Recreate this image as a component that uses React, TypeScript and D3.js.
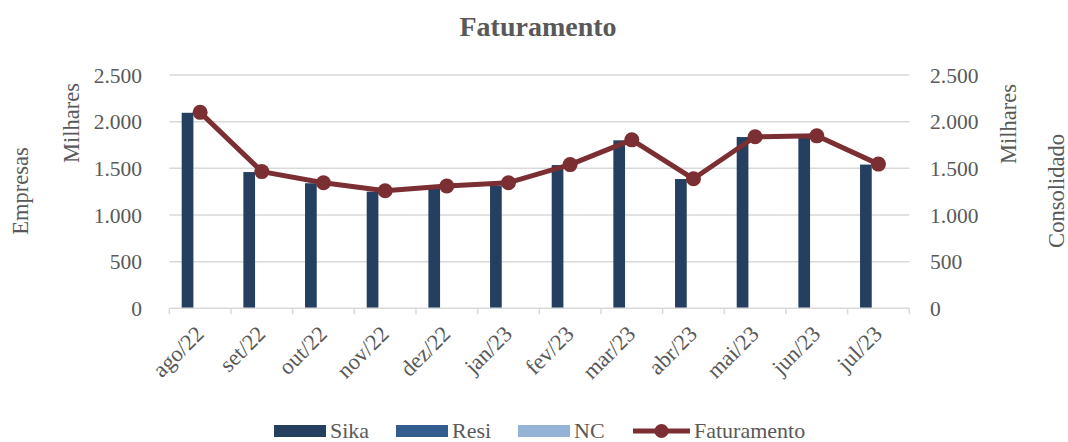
import React from "react";
import * as d3 from "d3";

const categories = ["ago/22","set/22","out/22","nov/22","dez/22","jan/23","fev/23","mar/23","abr/23","mai/23","jun/23","jul/23"];
const sika = [2095, 1460, 1340, 1250, 1280, 1315, 1535, 1800, 1385, 1835, 1840, 1540];
const resi = [0,0,0,0,0,0,0,0,0,0,0,0];
const nc = [0,0,0,0,0,0,0,0,0,0,0,0];
const faturamento = [2100, 1465, 1346, 1260, 1311, 1346, 1540, 1805, 1388, 1838, 1848, 1545];
const yTicks = [0, 500, 1000, 1500, 2000, 2500];
const seriesNames = ["Sika", "Resi", "NC"];
const seriesColors = ["#243F60", "#335D8E", "#95B3D7"];
const lineColor = "#7B2F32";

const W = 1068, H = 442;
const left = 169.3, right = 909.3, top = 75, bottom = 308.3;
const FONT = "'Liberation Serif', 'Times New Roman', serif";
const TXT = "#595959";

const fmt = (v: number) => d3.format(",")(v).replace(/,/g, ".");

export default function App() {
  const x = d3.scaleBand<string>().domain(categories).range([left, right]).paddingInner(0).paddingOuter(0);
  const bw = x.bandwidth();
  const xs = d3.scaleBand<string>().domain(seriesNames).range([12.4, 12.4 + 35.1]);
  const y = d3.scaleLinear().domain([0, 2500]).range([bottom, top]);
  const y2 = d3.scaleLinear().domain([0, 2500]).range([bottom, top]);
  const seriesData = [sika, resi, nc];
  const line = d3.line<number>().x((_, i) => (x(categories[i]) as number) + bw / 2).y((d) => y2(d));
  const boundaries = categories.map((c) => x(c) as number).concat([right]);

  return (
    <svg width={W} height={H} style={{ position: "absolute", left: 0, top: 0, background: "#fff" }} fontFamily={FONT}>
      <rect x={0} y={0} width={W} height={H} fill="#fff" />
      <text x={538} y={36} textAnchor="middle" fontSize={28} fontWeight="bold" fill={TXT}>Faturamento</text>
      {yTicks.map((t) => (
        <g key={t}>
          {t > 0 && <line x1={left} x2={right} y1={y(t)} y2={y(t)} stroke="#D9D9D9" strokeWidth={1.5} />}
          <text x={142} y={y(t)} dy="0.35em" textAnchor="end" fontSize={21.5} fill={TXT}>{fmt(t)}</text>
          <text x={930} y={y2(t)} dy="0.35em" textAnchor="start" fontSize={21.5} fill={TXT}>{fmt(t)}</text>
        </g>
      ))}
      {seriesData.map((vals, si) =>
        vals.map((v, i) =>
          v > 0 ? (
            <rect key={si + "-" + i} x={(x(categories[i]) as number) + (xs(seriesNames[si]) as number)} y={y(v)} width={xs.bandwidth()} height={bottom - y(v)} fill={seriesColors[si]} />
          ) : null
        )
      )}
      <line x1={left} x2={right} y1={bottom} y2={bottom} stroke="#D9D9D9" strokeWidth={1.5} />
      {boundaries.map((bx, i) => (
        <line key={i} x1={bx} x2={bx} y1={bottom} y2={bottom + 6} stroke="#D9D9D9" strokeWidth={1.5} />
      ))}
      {categories.map((c) => (
        <text key={c} transform={`translate(${(x(c) as number) + bw / 2 + 5},${bottom + 27}) rotate(-45)`} textAnchor="end" fontSize={22.5} fill={TXT}>{c}</text>
      ))}
      <path d={line(faturamento) || ""} fill="none" stroke={lineColor} strokeWidth={5} strokeLinejoin="round" />
      {faturamento.map((v, i) => (
        <circle key={i} cx={(x(categories[i]) as number) + bw / 2} cy={y2(v)} r={7.5} fill={lineColor} />
      ))}
      <text transform="translate(20,191) rotate(-90)" textAnchor="middle" dominantBaseline="central" fontSize={22.5} fill={TXT}>Empresas</text>
      <text transform="translate(71,123) rotate(-90)" textAnchor="middle" dominantBaseline="central" fontSize={22.5} fill={TXT}>Milhares</text>
      <text transform="translate(1008,124) rotate(-90)" textAnchor="middle" dominantBaseline="central" fontSize={22.5} fill={TXT}>Milhares</text>
      <text transform="translate(1056,191) rotate(-90)" textAnchor="middle" dominantBaseline="central" fontSize={22.5} fill={TXT}>Consolidado</text>
      {seriesNames.map((s, i) => {
        const lx = [274, 396, 518][i];
        return (
          <g key={s}>
            <rect x={lx} y={425} width={52} height={12} fill={seriesColors[i]} />
            <text x={lx + 56} y={438} fontSize={22} fill={TXT}>{s}</text>
          </g>
        );
      })}
      <line x1={633} x2={690} y1={431} y2={431} stroke={lineColor} strokeWidth={5} />
      <circle cx={661.5} cy={431} r={7} fill={lineColor} />
      <text x={694} y={438} fontSize={22} fill={TXT}>Faturamento</text>
    </svg>
  );
}
